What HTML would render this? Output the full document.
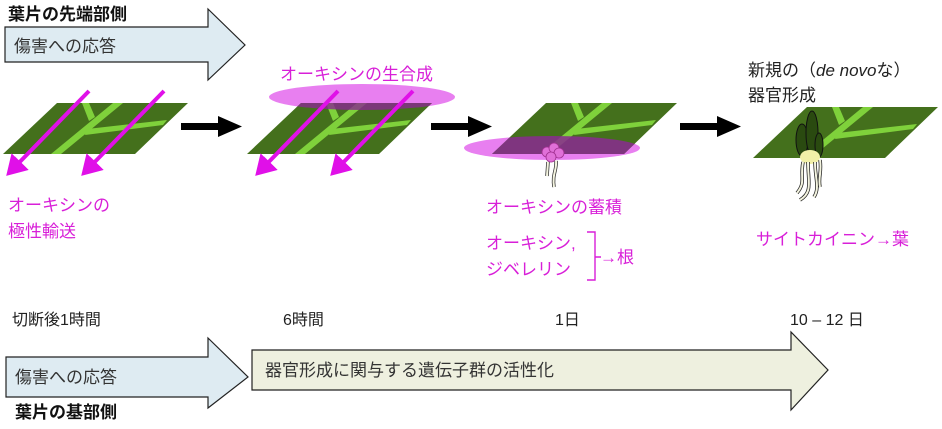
<!DOCTYPE html>
<html><head><meta charset="utf-8"><style>
body{margin:0;background:#fff;width:942px;height:424px;overflow:hidden}
text{font-family:"Liberation Sans","Noto Sans CJK JP",sans-serif}
</style></head><body>
<svg width="942" height="424" viewBox="0 0 942 424" xmlns="http://www.w3.org/2000/svg">
<defs>
<g id="leaf">
<polygon points="54,0 185,0 132,51 0,51" fill="#44701c"/>
<polygon points="110,0 120,0 58,51 48,51" fill="#7fd13b"/>
<polygon points="79,0 86,0 92,14 86,18" fill="#7fd13b"/>
<polygon points="84,26 164,17 160,22 82,32" fill="#7fd13b"/>
</g>
<clipPath id="c2"><polygon points="301,103 432,103 379,154 247,154"/></clipPath>
<clipPath id="c3"><polygon points="546,103 677,103 624,154 492,154"/></clipPath>
<marker id="pk" markerWidth="6" markerHeight="6" refX="4" refY="3" orient="auto" markerUnits="strokeWidth"><path d="M0,0 L5,3 L0,6 z" fill="#e010e8"/></marker>
</defs>

<!-- top arrow -->
<text x="8" y="20" font-size="17" font-weight="bold" fill="#111">葉片の先端部側</text>
<polygon points="5,27 208,27 208,9 245,45 208,80 208,62 5,62" fill="#deebf2" stroke="#222" stroke-width="1.2"/>
<text x="14" y="52" font-size="17" fill="#333">傷害への応答</text>

<!-- leaves -->
<use href="#leaf" x="3" y="103"/>
<ellipse cx="362" cy="97" rx="93" ry="13" fill="#e87ff0"/>
<use href="#leaf" x="247" y="103"/>
<ellipse cx="362" cy="97" rx="93" ry="13" fill="#8a2a90" opacity="0.8" clip-path="url(#c2)"/>
<ellipse cx="552" cy="148" rx="88" ry="12" fill="#e87ff0"/>
<use href="#leaf" x="492" y="103"/>
<ellipse cx="552" cy="148" rx="88" ry="12" fill="#8a2a90" opacity="0.85" clip-path="url(#c3)"/>
<use href="#leaf" x="753" y="107"/>

<!-- pink arrows -->
<g stroke="#e010e8" stroke-width="4" fill="none" marker-end="url(#pk)">
<line x1="89" y1="91" x2="9" y2="173"/>
<line x1="164" y1="91" x2="84" y2="173"/>
<line x1="338" y1="91" x2="258" y2="173"/>
<line x1="413" y1="91" x2="333" y2="173"/>
</g>

<!-- root leaf3 -->
<g fill="#e070d8" stroke="#a03090" stroke-width="0.8">
<circle cx="547" cy="152" r="5"/><circle cx="554" cy="148" r="5"/><circle cx="559" cy="153" r="5"/><circle cx="551" cy="157" r="5"/>
</g>
<path d="M548,162 L547,176 M556,161 C557,170 552,174 554,187" stroke="#333" stroke-width="3.5" fill="none"/>
<path d="M548,162 L547,176 M556,161 C557,170 552,174 554,187" stroke="#f4f4e0" stroke-width="2" fill="none"/>

<!-- plantlet leaf4 -->
<ellipse cx="802" cy="140" rx="6" ry="16" fill="#2a4a10" stroke="#111"/>
<ellipse cx="812" cy="133" rx="6" ry="22" fill="#2a4a10" stroke="#111"/>
<ellipse cx="819" cy="145" rx="4" ry="12" fill="#2a4a10" stroke="#111"/>
<ellipse cx="810" cy="157" rx="10" ry="7" fill="#f2f0a8"/>
<g stroke="#222" stroke-width="3.5" fill="none">
<path d="M803,162 C800,178 806,182 797,193"/><path d="M808,162 C808,182 813,192 800,200"/><path d="M815,162 C815,178 820,188 814,197"/><path d="M820,160 C822,172 818,177 820,187"/>
</g>
<g stroke="#f4f4e0" stroke-width="2" fill="none">
<path d="M803,162 C800,178 806,182 797,193"/><path d="M808,162 C808,182 813,192 800,200"/><path d="M815,162 C815,178 820,188 814,197"/><path d="M820,160 C822,172 818,177 820,187"/>
</g>

<!-- black arrows -->
<g fill="#000">
<rect x="181" y="123" width="40" height="7"/><polygon points="218,116 242,126.5 218,137"/>
<rect x="431" y="123" width="40" height="7"/><polygon points="468,116 492,126.5 468,137"/>
<rect x="680" y="123" width="40" height="7"/><polygon points="717,116 741,126.5 717,137"/>
</g>

<!-- labels -->
<g fill="#d81fd8" font-size="17">
<text x="280" y="80">オーキシンの生合成</text>
<text x="8" y="211">オーキシンの</text>
<text x="8" y="237">極性輸送</text>
<text x="486" y="213">オーキシンの蓄積</text>
<text x="486" y="249">オーキシン,</text>
<text x="486" y="275">ジベレリン</text>
<text x="600" y="263">→根</text>
<text x="756" y="245">サイトカイニン→葉</text>
</g>
<path d="M587,232 L595,232 L595,280 L587,280 M595,257 L601,257" stroke="#d81fd8" stroke-width="1.4" fill="none"/>
<g fill="#222" font-size="17">
<text x="748" y="76">新規の（<tspan font-style="italic">de novo</tspan>な）</text>
<text x="748" y="101">器官形成</text>
</g>

<!-- times -->
<g fill="#222" font-size="16">
<text x="12" y="325">切断後1時間</text>
<text x="283" y="325">6時間</text>
<text x="555" y="325">1日</text>
<text x="790" y="325">10 – 12 日</text>
</g>

<!-- bottom arrows -->
<polygon points="6,357 208,357 208,338 248,377 208,408 208,397 6,397" fill="#deebf2" stroke="#222" stroke-width="1.2"/>
<text x="15" y="383" font-size="17" fill="#333">傷害への応答</text>
<polygon points="252,350 791,350 791,332 828,370 791,410 791,390 252,390" fill="#eef0df" stroke="#222" stroke-width="1.2"/>
<text x="265" y="376" font-size="17" fill="#333">器官形成に関与する遺伝子群の活性化</text>
<text x="15" y="418" font-size="17" font-weight="bold" fill="#111">葉片の基部側</text>
</svg>
</body></html>
